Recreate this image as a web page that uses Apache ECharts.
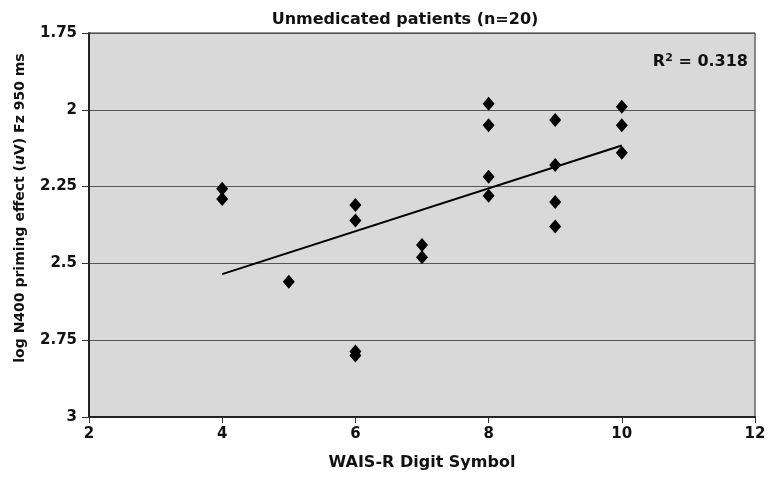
<!DOCTYPE html>
<html>
<head>
<meta charset="utf-8">
<script src="https://cdn.jsdelivr.net/npm/echarts@6/dist/echarts.min.js"></script>
<style>
  html, body { margin: 0; padding: 0; background: #fff; }
  #chart { width: 771px; height: 477px; }
</style>
</head>
<body>
<div id="chart"></div>
<script>
// digit symbol scores and log N400 priming values
var digitSymbol = [4, 4, 5, 6, 6, 6, 6, 7, 7, 8, 8, 8, 8, 9, 9, 9, 9, 10, 10, 10];
var logN400 = [2.257, 2.29, 2.56, 2.31, 2.36, 2.787, 2.80, 2.44, 2.48, 1.98, 2.05, 2.218, 2.28, 2.033, 2.18, 2.30, 2.38, 1.99, 2.05, 2.14];
var rSquared = '0.318';

var points = [];
for (var i = 0; i < digitSymbol.length; i++) {
    points.push([digitSymbol[i], logN400[i]]);
}

// least squares line through the points
var n = points.length, sx = 0, sy = 0, sxx = 0, sxy = 0;
points.forEach(function (p) {
    sx += p[0]; sy += p[1]; sxx += p[0] * p[0]; sxy += p[0] * p[1];
});
var slope = (n * sxy - sx * sy) / (n * sxx - sx * sx);
var icpt = (sy - slope * sx) / n;
var xMin = Math.min.apply(null, digitSymbol), xMax = Math.max.apply(null, digitSymbol);
var trend = [[xMin, icpt + slope * xMin], [xMax, icpt + slope * xMax]];

var font = 'DejaVu Sans';
var chart = echarts.init(document.getElementById('chart'));
chart.setOption({
    animation: false,
    backgroundColor: '#fff',
    title: {
        text: 'Unmedicated patients (n=20)',
        left: 400,
        top: 7,
        textAlign: 'center',
        textStyle: { fontFamily: font, fontWeight: 'bold', fontSize: 16, color: '#111' }
    },
    grid: {
        left: 89, right: 16, top: 33, bottom: 60,
        show: true, backgroundColor: '#d9d9d9', borderColor: '#222', borderWidth: 1
    },
    graphic: [{
        type: 'text',
        right: 23,
        top: 53,
        style: {
            text: 'R{sup|2} = ' + rSquared,
            font: 'bold 16px "DejaVu Sans"',
            fill: '#111',
            rich: {
                sup: { fontSize: 11, fontWeight: 'bold', fontFamily: font, verticalAlign: 'top', padding: [0, 0, 7, 0] }
            }
        }
    }, {
        // y axis title, turned a quarter
        type: 'text',
        x: 20,
        y: 208,
        rotation: Math.PI / 2,
        style: {
            text: 'log N400 priming effect ({it|u}V) Fz 950 ms',
            font: 'bold 14px "DejaVu Sans"',
            fill: '#111',
            align: 'center',
            verticalAlign: 'middle',
            rich: {
                it: { fontSize: 14, fontWeight: 'bold', fontStyle: 'italic', fontFamily: font }
            }
        }
    }],
    xAxis: {
        type: 'value',
        min: 2, max: 12, interval: 2,
        name: 'WAIS-R Digit Symbol',
        nameLocation: 'middle',
        nameGap: 38,
        nameTextStyle: { fontFamily: font, fontWeight: 'bold', fontSize: 16, color: '#111' },
        axisLine: { lineStyle: { color: '#222', width: 2 } },
        axisTick: { show: true, length: 6, lineStyle: { color: '#333' } },
        axisLabel: { fontFamily: font, fontWeight: 'bold', fontSize: 15, color: '#111', margin: 10 },
        splitLine: { show: false }
    },
    yAxis: {
        type: 'value',
        inverse: true,
        min: 1.75, max: 3, interval: 0.25,
        axisLine: { show: true, lineStyle: { color: '#222', width: 2 } },
        axisTick: { show: true, length: 7, lineStyle: { color: '#333' } },
        axisLabel: { fontFamily: font, fontWeight: 'bold', fontSize: 15, color: '#111', margin: 12 },
        splitLine: { show: true, lineStyle: { color: '#555', width: 1 } }
    },
    series: [{
        type: 'scatter',
        data: points,
        symbol: 'diamond',
        symbolSize: [12, 14],
        itemStyle: { color: '#000', opacity: 1 },
        z: 3
    }, {
        type: 'line',
        data: trend,
        symbol: 'none',
        lineStyle: { color: '#000', width: 2 },
        z: 2
    }]
});
</script>
</body>
</html>
